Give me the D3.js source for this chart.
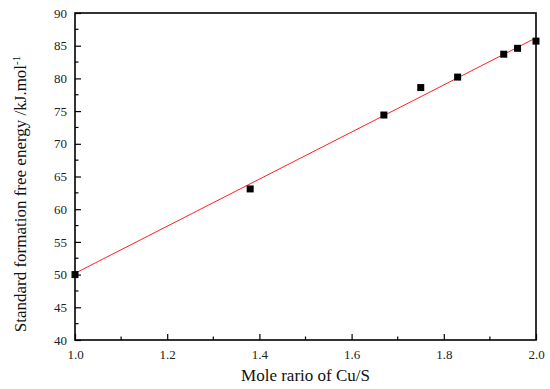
<!DOCTYPE html>
<html><head><meta charset="utf-8">
<script src="https://cdn.jsdelivr.net/npm/d3@7"></script>
<style>body{margin:0;background:#fff}svg{display:block}</style>
</head><body>
<script>
const ratio = [1.0, 1.38, 1.67, 1.75, 1.83, 1.93, 1.96, 2.0];
const energy = [50.0, 63.1, 74.4, 78.6, 80.2, 83.7, 84.6, 85.7];
const fitX = [1.0, 2.0];
const fitY = [50.2, 86.2];
const xTicks = [1.0, 1.2, 1.4, 1.6, 1.8, 2.0];
const yTicks = [40, 45, 50, 55, 60, 65, 70, 75, 80, 85, 90];

const W = 550, H = 389;
const m = {l: 75, r: 14, t: 13, b: 49};
const svg = d3.select("body").append("svg").attr("width", W).attr("height", H);
const x = d3.scaleLinear().domain([1.0, 2.0]).range([m.l, W - m.r]);
const y = d3.scaleLinear().domain([40, 90]).range([H - m.b, m.t]);
const font = "'Liberation Serif','Times New Roman',serif";

// minor ticks
const xMinor = d3.range(1.1, 2.0, 0.2);
const yMinor = d3.range(42.5, 90, 5);
svg.append("g").selectAll("line").data(xMinor).join("line")
  .attr("x1", d => x(d)).attr("x2", d => x(d))
  .attr("y1", y(40)).attr("y2", y(40) - 3.5).attr("stroke", "#000").attr("stroke-width", 1.2);
svg.append("g").selectAll("line").data(yMinor).join("line")
  .attr("y1", d => y(d)).attr("y2", d => y(d))
  .attr("x1", x(1)).attr("x2", x(1) + 3.5).attr("stroke", "#000").attr("stroke-width", 1.2);

const xAxis = svg.append("g").attr("transform", `translate(0,${y(40)})`)
  .call(d3.axisBottom(x).tickValues(xTicks).tickFormat(d3.format(".1f")).tickSizeInner(-6).tickSizeOuter(0).tickPadding(10));
const yAxis = svg.append("g").attr("transform", `translate(${x(1)},0)`)
  .call(d3.axisLeft(y).tickValues(yTicks).tickSizeInner(-6).tickSizeOuter(0).tickPadding(8));
[xAxis, yAxis].forEach(g => {
  g.select(".domain").remove();
  g.selectAll(".tick line").attr("stroke", "#000").attr("stroke-width", 1.2);
  g.selectAll("text").attr("font-family", font).attr("font-size", 13).attr("fill", "#222");
});

// frame
svg.append("rect").attr("x", x(1)).attr("y", y(90)).attr("width", x(2) - x(1)).attr("height", y(40) - y(90))
  .attr("fill", "none").attr("stroke", "#000").attr("stroke-width", 1.6);

// fit line
svg.append("path").datum(fitX.map((d, i) => [d, fitY[i]]))
  .attr("d", d3.line().x(d => x(d[0])).y(d => y(d[1])))
  .attr("stroke", "#ff2020").attr("stroke-width", 1).attr("fill", "none");

// points
const s = 7;
svg.append("g").selectAll("rect").data(ratio.map((d, i) => [d, energy[i]])).join("rect")
  .attr("x", d => x(d[0]) - s / 2).attr("y", d => y(d[1]) - s / 2)
  .attr("width", s).attr("height", s).attr("fill", "#000");

// titles
svg.append("text").attr("x", (x(1) + x(2)) / 2).attr("y", 381).attr("text-anchor", "middle")
  .attr("font-family", font).attr("font-size", 17).attr("fill", "#111").text("Mole rario of Cu/S");
const yt = svg.append("text").attr("transform", "translate(26,194) rotate(-90)").attr("text-anchor", "middle")
  .attr("font-family", font).attr("font-size", 17).attr("fill", "#111");
yt.append("tspan").text("Standard formation free energy /kJ.mol");
yt.append("tspan").attr("dy", -6).attr("font-size", 11).text("-1");
</script>
</body></html>
